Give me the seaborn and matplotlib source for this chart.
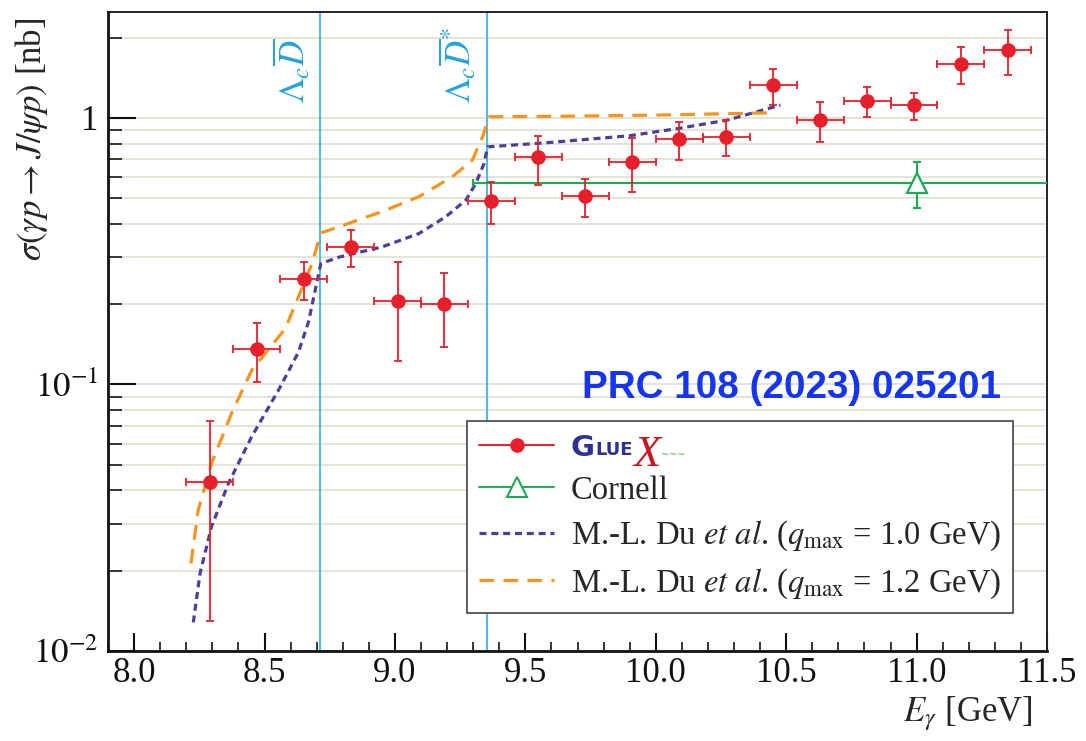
import matplotlib
matplotlib.use("Agg")
import matplotlib.pyplot as plt
import matplotlib.transforms as mtransforms
import seaborn as sns
from matplotlib.lines import Line2D
from matplotlib.ticker import FixedLocator, FixedFormatter, MultipleLocator, FormatStrFormatter, LogLocator, NullFormatter

# GlueX J/psi photoproduction cross section (nb) vs photon energy (GeV)
gluex_E = [8.29, 8.47, 8.65, 8.83, 9.01, 9.19, 9.37, 9.55, 9.73, 9.91,
           10.09, 10.27, 10.45, 10.63, 10.81, 10.99, 11.17, 11.35]
gluex_sigma = [0.043, 0.136, 0.248, 0.327, 0.205, 0.200, 0.487, 0.710, 0.507, 0.682,
               0.830, 0.849, 1.322, 0.980, 1.152, 1.113, 1.594, 1.789]
gluex_sigma_err = [0.030, 0.034, 0.040, 0.051, 0.083, 0.062, 0.087, 0.148, 0.082, 0.155,
                   0.135, 0.132, 0.205, 0.168, 0.148, 0.128, 0.254, 0.348]
gluex_E_halfbin = [0.09] * len(gluex_E)

# Cornell measurement
cornell_E = [11.0]
cornell_sigma = [0.57]
cornell_sigma_err = [0.113]
cornell_E_halfwidth = [1.7]

# M.-L. Du et al. coupled-channel predictions
du_q10_E = [8.227, 8.253, 8.297, 8.362, 8.451, 8.554, 8.630, 8.669, 8.692, 8.716,
            8.785, 8.951, 9.092, 9.195, 9.272, 9.310, 9.342, 9.355,
            9.580, 9.898, 10.086, 10.274, 10.478]
du_q10_sigma = [0.0128, 0.0196, 0.0293, 0.0426, 0.0637, 0.0953, 0.132, 0.172, 0.220, 0.284,
                0.300, 0.328, 0.368, 0.4255, 0.491, 0.567, 0.675, 0.778,
                0.806, 0.856, 0.912, 0.980, 1.116]
du_q12_E = [8.218, 8.246, 8.297, 8.374, 8.451, 8.580, 8.630, 8.682, 8.708, 8.716,
            8.785, 8.951, 9.092, 9.220, 9.297, 9.336, 9.362, 9.580, 9.990, 10.446]
du_q12_sigma = [0.0213, 0.0338, 0.0506, 0.078, 0.113, 0.162, 0.213, 0.284, 0.348, 0.370,
                0.390, 0.445, 0.506, 0.601, 0.694, 0.849, 1.009, 1.012, 1.023, 1.044]

# Open-charm thresholds
threshold_E = [8.714, 9.353]
threshold_labels = [r"$\Lambda_c\overline{D}$", r"$\Lambda_c\overline{D}^{*}$"]

x_ticks = [8.0, 8.5, 9.0, 9.5, 10.0, 10.5, 11.0, 11.5]
y_ticks = [0.01, 0.1, 1.0]
y_tick_labels = [r"$10^{-2}$", r"$10^{-1}$", "1"]

legend_labels = ["G", "Cornell",
                 r"M.-L. Du $\it{et\ al}$. ($q_{\rm max}$ = 1.0 GeV)",
                 r"M.-L. Du $\it{et\ al}$. ($q_{\rm max}$ = 1.2 GeV)"]

RED = "#e6202b"
GREEN = "#1daa55"
BLUE = "#4a3f99"
ORANGE = "#f7941d"
CYAN = "#3db4e4"
NAVY = "#2e3192"

sns.set_theme(style="ticks")
plt.rcParams["font.family"] = ["Liberation Serif", "DejaVu Serif"]
plt.rcParams["mathtext.fontset"] = "stix"

fig = plt.figure(figsize=(10.86, 7.41), dpi=100)
ax = fig.add_axes([0.09945, 0.12146, 0.86464, 0.86275])
ax.set_yscale("log")
ax.set_xlim(7.9, 11.5)
ax.set_ylim(0.01, 2.5)

# horizontal grid
ax.yaxis.grid(True, which="both", color="#e3e0d3", lw=1.3, zorder=0)
ax.xaxis.grid(False)
ax.set_axisbelow(True)

# thresholds
blend = mtransforms.blended_transform_factory(ax.transData, ax.transAxes)
for xe, lab in zip(threshold_E, threshold_labels):
    ax.axvline(xe, color=CYAN, lw=1.3, zorder=1.5)
    ax.text(xe - 0.028, 0.857, lab, transform=blend, rotation=90, ha="right", va="bottom",
            color="#22a3db", fontsize=25)

# theory curves
sns.lineplot(x=du_q10_E, y=du_q10_sigma, ax=ax, color=BLUE, lw=2.3,
             linestyle=(0, (2.2, 1.5)), estimator=None, sort=False, zorder=2)
sns.lineplot(x=du_q12_E, y=du_q12_sigma, ax=ax, color=ORANGE, lw=2.3,
             linestyle=(0, (4.6, 2.9)), estimator=None, sort=False, zorder=2)

# Cornell
ax.errorbar(cornell_E, cornell_sigma, xerr=cornell_E_halfwidth, yerr=cornell_sigma_err,
            fmt="^", ms=15, mfc="white", mec=GREEN, mew=1.6, color=GREEN, ecolor=GREEN,
            elinewidth=1.5, capsize=3.2, capthick=1.5, zorder=3)

# GlueX
ax.errorbar(gluex_E, gluex_sigma, xerr=gluex_E_halfbin, yerr=gluex_sigma_err,
            fmt="o", ms=9.5, color=RED, ecolor=RED, elinewidth=1.3, capsize=2.6,
            capthick=1.3, zorder=4)

# axes styling
for side in ["left", "bottom"]:
    ax.spines[side].set_linewidth(2.0)
    ax.spines[side].set_color("#111118")
for side in ["top", "right"]:
    ax.spines[side].set_linewidth(1.4)
    ax.spines[side].set_color("#222222")

ax.xaxis.set_major_locator(FixedLocator(x_ticks))
ax.xaxis.set_major_formatter(FormatStrFormatter("%.1f"))
ax.xaxis.set_minor_locator(MultipleLocator(0.1))
ax.yaxis.set_major_locator(FixedLocator(y_ticks))
ax.yaxis.set_major_formatter(FixedFormatter(y_tick_labels))
ax.yaxis.set_minor_locator(LogLocator(base=10, subs=[2, 3, 4, 5, 6, 7, 8, 9]))
ax.yaxis.set_minor_formatter(NullFormatter())

ax.tick_params(axis="x", which="major", direction="in", length=13, width=1.5,
               labelsize=25, pad=4, colors="#111111", top=False)
ax.tick_params(axis="x", which="minor", direction="in", length=6.5, width=1.3, top=False)
ax.tick_params(axis="y", which="major", direction="in", length=20, width=1.5,
               labelsize=25, pad=7, colors="#111111", right=False)
ax.tick_params(axis="y", which="minor", direction="in", length=10, width=1.3, right=False)

ax.set_xlabel(r"$E_{\gamma}$ [GeV]", fontsize=25, loc="right")
ax.xaxis.set_label_coords(0.985, -0.068)
ax.set_ylabel(r"$\sigma(\gamma p \rightarrow J/\psi p)$ [nb]", fontsize=25, loc="top")
ax.yaxis.set_label_coords(-0.062, 0.99)

# publication tag
ax.text(0.7274, 0.3957, "PRC 108 (2023) 025201", transform=ax.transAxes, ha="center",
        va="baseline", fontsize=27.8, fontweight="bold", family="Liberation Sans",
        color="#1535f0", zorder=5)

# legend
handles = [
    Line2D([], [], color=RED, marker="o", ms=9.5, lw=1.4),
    Line2D([], [], color=GREEN, marker="^", ms=14, mfc="white", mew=1.5, lw=1.4),
    Line2D([], [], color=BLUE, lw=2.3, linestyle=(0, (2.2, 1.5))),
    Line2D([], [], color=ORANGE, lw=2.3, linestyle=(0, (4.6, 2.9))),
]
leg = ax.legend(handles, legend_labels, loc="upper left", bbox_to_anchor=(0.3823, 0.3598),
                borderaxespad=0, fontsize=23.5, handlelength=2.3, handletextpad=0.5,
                borderpad=0.38, labelspacing=0.40, fancybox=False, framealpha=1,
                edgecolor="#444444")
leg.get_frame().set_linewidth(1.2)
leg.set_zorder(6)

# experiment logotype in the first legend entry
tG = leg.get_texts()[0]
tG.set_fontfamily("DejaVu Sans")
tG.set_fontweight("bold")
tG.set_fontsize(21)
tG.set_color(NAVY)
tLUE = ax.annotate("LUE", xy=(1, 0), xycoords=tG, xytext=(0.5, 4.9), textcoords="offset points",
                   ha="left", va="baseline", fontsize=13, fontweight="bold",
                   family="DejaVu Sans", color=NAVY, zorder=7)
tX = ax.annotate("X", xy=(1, 0), xycoords=tLUE, xytext=(0.5, -5), textcoords="offset points",
                 ha="left", va="baseline", fontsize=32, fontstyle="italic",
                 family="Liberation Serif", color="#c8161d", zorder=7)
ax.annotate("~~~", xy=(1, 0.5), xycoords=tX, xytext=(0.5, 0), textcoords="offset points",
            ha="left", va="center", fontsize=7, family="DejaVu Sans", color="#55b54a", zorder=8)

fig.savefig("out.png", dpi=100)
